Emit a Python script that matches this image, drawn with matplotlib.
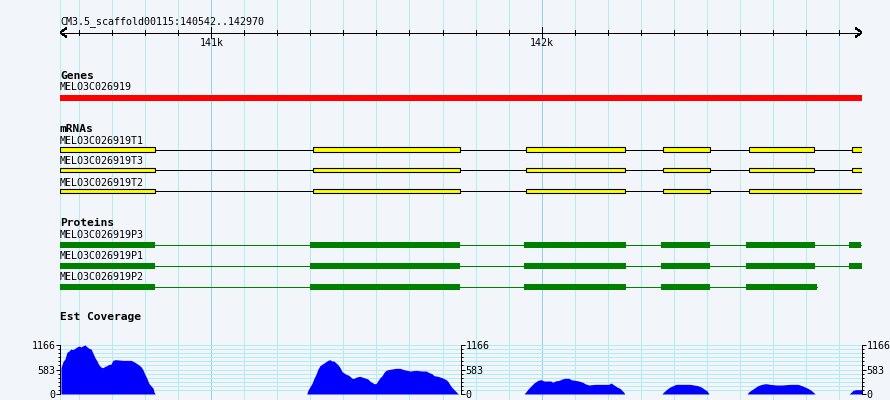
import matplotlib
matplotlib.use("Agg")
import matplotlib.pyplot as plt
from matplotlib.patches import Rectangle

# ---- data ----
START, END = 140542, 142970
REF_LABEL = "CM3.5_scaffold00115:140542..142970"
MAJOR_TICKS = [141000, 142000]
MAJOR_LABELS = ["141k", "142k"]
MINOR_TICKS = list(range(140600, 143000, 100))

GENE_NAME = "MELO3C026919"
GENE_SPAN = (140542, 142970)

MRNA_NAMES = ["MELO3C026919T1", "MELO3C026919T3", "MELO3C026919T2"]
mrna_t1 = [(140542, 140830), (141307, 141752), (141953, 142254),
           (142367, 142509), (142627, 142825), (142939, 142970)]
mrna_t3 = [(140542, 140830), (141307, 141752), (141953, 142254),
           (142367, 142509), (142627, 142825), (142939, 142970)]
mrna_t2 = [(140542, 140830), (141307, 141752), (141953, 142254),
           (142367, 142509), (142627, 142970)]

PROTEIN_NAMES = ["MELO3C026919P3", "MELO3C026919P1", "MELO3C026919P2"]
prot_p3 = [(140542, 140830), (141299, 141753), (141947, 142255),
           (142361, 142510), (142619, 142827), (142930, 142967)]
prot_p1 = [(140542, 140830), (141299, 141753), (141947, 142255),
           (142361, 142510), (142619, 142827), (142930, 142970)]
prot_p2 = [(140542, 140830), (141299, 141753), (141947, 142255),
           (142361, 142510), (142619, 142834)]

COV_MAX = 1166
COV_MID = 583
COV_SCALES_AT = [141756, 142970]   # extra scales drawn inside/at end of track

cov_pos = [140545, 140551, 140557, 140563, 140569, 140575, 140581, 140587,
           140593, 140600, 140606, 140612, 140618, 140624, 140630, 140636,
           140642, 140648, 140654, 140660, 140666, 140672, 140678, 140684,
           140690, 140696, 140702, 140709, 140733, 140757, 140769, 140781,
           140787, 140793, 140799, 140805, 140811, 140817, 140824, 140827,
           140830,
           141289, 141293, 141299, 141305, 141311, 141317, 141323, 141329,
           141335, 141341, 141347, 141353, 141359, 141365, 141371, 141378,
           141384, 141390, 141396, 141402, 141408, 141414, 141420, 141426,
           141432, 141438, 141444, 141450, 141456, 141462, 141468, 141474,
           141480, 141486, 141493, 141499, 141505, 141511, 141517, 141523,
           141529, 141535, 141547, 141559, 141571, 141583, 141602, 141620,
           141638, 141650, 141662, 141668, 141674, 141686, 141698, 141711,
           141717, 141723, 141729, 141735, 141741, 141747, 141750,
           141947, 141953, 141959, 141965, 141971, 141977, 141983, 141989,
           141998, 142007, 142013, 142028, 142034, 142041, 142053, 142062,
           142071, 142083, 142089, 142101, 142113, 142125, 142131, 142143,
           142162, 142180, 142204, 142210, 142216, 142222, 142228, 142237,
           142243, 142249, 142252,
           142364, 142371, 142380, 142389, 142398, 142407, 142419, 142434,
           142449, 142461, 142473, 142483, 142492, 142501, 142507,
           142622, 142628, 142637, 142646, 142655, 142667, 142679, 142691,
           142710, 142728, 142752, 142776, 142788, 142797, 142806, 142816,
           142825, 142828,
           142931, 142937, 142943, 142952, 142964, 142970]
cov_val = [626, 769, 833, 991, 1023, 1071, 1055, 1086,
           1118, 1142, 1118, 1150, 1166, 1118, 1086, 1071,
           967, 864, 785, 690, 642, 626, 658, 674,
           706, 706, 801, 817, 801, 801, 753, 690,
           650, 579, 468, 373, 254, 198, 135, 40,
           0,
           0, 95, 174, 254, 373, 468, 595, 674,
           706, 737, 769, 801, 817, 785, 785, 737,
           690, 626, 531, 500, 468, 452, 420, 373,
           373, 397, 412, 420, 404, 389, 373, 357,
           309, 278, 246, 246, 325, 389, 436, 515,
           563, 579, 595, 611, 611, 579, 547, 563,
           547, 547, 500, 484, 436, 420, 389, 341,
           293, 214, 151, 103, 56, 8, 0,
           0, 56, 119, 167, 214, 262, 293, 325,
           341, 309, 309, 309, 278, 309, 325, 357,
           373, 373, 341, 325, 309, 278, 246, 214,
           230, 230, 230, 262, 230, 198, 167, 135,
           87, 40, 0,
           0, 56, 119, 167, 198, 230, 230, 230,
           230, 214, 198, 167, 119, 71, 0,
           0, 56, 103, 151, 198, 230, 246, 230,
           214, 214, 230, 230, 198, 167, 135, 87,
           24, 0,
           0, 40, 87, 103, 103, 103]

# ---- style ----
W, H = 890, 400
BG = "#f2f5fa"
GRID = "#b2ecf0"
GRID_MAJOR = "#90d2ea"
MONO = "DejaVu Sans Mono"
SMALL = 7.2
BOLD = 8.1
PX = 72 / 100  # one pixel in points

# crisp, GD-like strokes (patches stay antialiased so box outlines stay thin)
plt.rcParams["lines.antialiased"] = False

fig = plt.figure(figsize=(W / 100, H / 100), dpi=100)
fig.patch.set_facecolor(BG)

# main panel: x in bp, y in pixels from top
ax = fig.add_axes([60 / W, 0, 802 / W, 1])
ax.set_xlim(START, END)
ax.set_ylim(H, 0)
ax.axis("off")

for x in [START] + MINOR_TICKS:
    c = GRID_MAJOR if x in MAJOR_TICKS else GRID
    ax.axvline(x, color=c, lw=PX, zorder=0)

# ruler
bp_px = (END - START) / 802
ax.text(START, 21.5, REF_LABEL, family=MONO, size=SMALL, ha="left", va="center")
ax.plot([START, END], [32.5, 32.5], color="black", lw=PX, zorder=3)
ax.vlines(MINOR_TICKS, 30, 35, color="black", lw=PX, zorder=3)
ax.vlines(MAJOR_TICKS, 27, 38, color="black", lw=PX, zorder=3)
for t, lab in zip(MAJOR_TICKS, MAJOR_LABELS):
    ax.text(t, 42.5, lab, family=MONO, size=SMALL, ha="center", va="center")
ax.plot([START + 6 * bp_px, START, START + 6 * bp_px], [28.5, 32.5, 36.5],
        color="black", lw=PX, zorder=3)
ax.plot([END - 6 * bp_px, END, END - 6 * bp_px], [28.5, 32.5, 36.5],
        color="black", lw=PX, zorder=3)

# genes
ax.text(START, 76, "Genes", family=MONO, weight="bold", size=BOLD, va="center")
ax.text(START, 87.5, GENE_NAME, family=MONO, size=SMALL, va="center")
ax.add_patch(Rectangle((GENE_SPAN[0], 95), GENE_SPAN[1] - GENE_SPAN[0], 5.7,
                       facecolor="#ff0000", lw=0, zorder=2))

# mRNAs
ax.text(START, 128.5, "mRNAs", family=MONO, weight="bold", size=BOLD, va="center")
for name, exons, ly, cy in zip(MRNA_NAMES, [mrna_t1, mrna_t3, mrna_t2],
                               [140.5, 161.5, 182.5], [149.5, 170.2, 191.2]):
    ax.text(START, ly, name, family=MONO, size=SMALL, va="center")
    ax.plot([exons[0][0], exons[-1][1]], [cy, cy], color="black", lw=PX, zorder=2)
    for s, e in exons:
        ax.add_patch(Rectangle((s, cy - 2.2), e - s, 4.4, facecolor="#ffff00",
                               edgecolor="black", lw=PX * 1.1, zorder=3))

# proteins
ax.text(START, 223, "Proteins", family=MONO, weight="bold", size=BOLD, va="center")
for name, exons, ly, cy in zip(PROTEIN_NAMES, [prot_p3, prot_p1, prot_p2],
                               [235, 256, 277], [244.8, 265.6, 286.6]):
    ax.text(START, ly, name, family=MONO, size=SMALL, va="center")
    ax.plot([exons[0][0], exons[-1][1]], [cy, cy], color="#008000", lw=PX, zorder=2)
    for s, e in exons:
        ax.add_patch(Rectangle((s, cy - 2.9), e - s, 5.8, facecolor="#008000",
                               lw=0, zorder=3))

ax.text(START, 317.5, "Est Coverage", family=MONO, weight="bold", size=BOLD,
        va="center")

# coverage track
cov_rect = [60 / W, (H - 394) / H, 802 / W, 49 / H]
cax = fig.add_axes(cov_rect)
cax.set_facecolor("none")
cax.set_xlim(START, END)
cax.set_ylim(0, COV_MAX)
for k in range(13):
    cax.axhline(COV_MAX * k / 12, color=GRID, lw=PX, zorder=0)
cax.fill_between(cov_pos, cov_val, color="#0000ff", lw=0, zorder=2)
for sp in ["top", "right", "bottom"]:
    cax.spines[sp].set_visible(False)
cax.spines["left"].set_linewidth(PX)
cax.set_xticks([])


def scale_axis(a, side):
    a.set_ylim(0, COV_MAX)
    a.set_yticks([0, COV_MID, COV_MAX])
    a.set_yticks([COV_MAX * k / 12 for k in range(13)], minor=True)
    a.set_yticklabels(["0", str(COV_MID), str(COV_MAX)], family=MONO, size=SMALL)
    a.tick_params(axis="y", which="major", length=4 * PX, width=PX, pad=0.5,
                  left=(side == "left"), right=(side == "right"),
                  labelleft=(side == "left"), labelright=(side == "right"))
    a.tick_params(axis="y", which="minor", length=2.5 * PX, width=PX,
                  left=(side == "left"), right=(side == "right"))


scale_axis(cax, "left")

for pos in COV_SCALES_AT:
    fx = (60 + (pos - START) / bp_px) / W
    sax = fig.add_axes([fx - 0.0005, cov_rect[1], 0.0005, cov_rect[3]])
    sax.set_facecolor("none")
    for sp in ["top", "left", "bottom"]:
        sax.spines[sp].set_visible(False)
    sax.spines["right"].set_linewidth(PX)
    sax.set_xticks([])
    sax.yaxis.set_ticks_position("right")
    scale_axis(sax, "right")

fig.savefig("out.png", dpi=100, facecolor=BG)
